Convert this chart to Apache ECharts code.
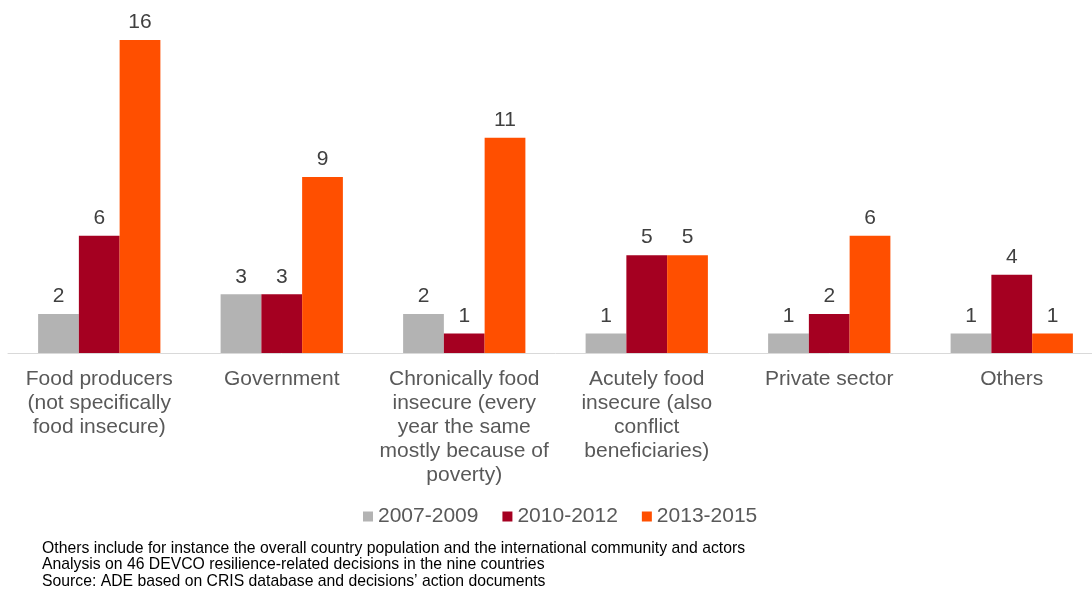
<!DOCTYPE html>
<html>
<head>
<meta charset="utf-8">
<script src="https://cdn.jsdelivr.net/npm/echarts@6/dist/echarts.min.js"></script>
<style>
  html, body { margin: 0; padding: 0; background: #ffffff; overflow: hidden; }
  #chart { width: 1103px; height: 590px; }
</style>
</head>
<body>
<div id="chart"></div>
<script>
// Beneficiary groups targeted by resilience-related decisions, by period
const categories = [
  'Food producers\n(not specifically\nfood insecure)',
  'Government',
  'Chronically food\ninsecure (every\nyear the same\nmostly because of\npoverty)',
  'Acutely food\ninsecure (also\nconflict\nbeneficiaries)',
  'Private sector',
  'Others'
];
const periods = ['2007-2009', '2010-2012', '2013-2015'];
const values2007 = [2, 3, 2, 1, 1, 1];
const values2010 = [6, 3, 1, 5, 2, 4];
const values2013 = [16, 9, 11, 5, 6, 1];
const periodColors = ['#b3b3b3', '#a50021', '#ff4f00'];
const notes = [
  'Others include for instance the overall country population and the international community and actors',
  'Analysis on 46 DEVCO resilience-related decisions in the nine countries',
  'Source: ADE based on CRIS database and decisions\u2019 action documents'
];

const font = 'Liberation Sans, Arial, sans-serif';
const seriesValues = [values2007, values2010, values2013];

const chart = echarts.init(document.getElementById('chart'), null, { renderer: 'canvas' });
chart.setOption({
  animation: false,
  textStyle: { fontFamily: font },
  grid: { left: 8, top: 40, right: 0, height: 313, containLabel: false },
  legend: {
    data: periods,
    left: 358,
    top: 501,
    itemWidth: 10,
    itemHeight: 10,
    itemGap: 24,
    icon: 'rect',
    textStyle: { fontFamily: font, fontSize: 21, color: '#595959', padding: [2, 0, 0, 0] }
  },
  xAxis: {
    type: 'category',
    data: categories,
    axisLine: { lineStyle: { color: '#d9d9d9', width: 1 } },
    axisTick: { show: false },
    axisLabel: {
      interval: 0,
      margin: 14,
      fontFamily: font,
      fontSize: 21,
      lineHeight: 24,
      color: '#595959',
      align: 'center'
    }
  },
  yAxis: {
    type: 'value',
    min: 0,
    max: 16,
    show: false,
    splitLine: { show: false }
  },
  series: seriesValues.map((vals, i) => ({
    name: periods[i],
    type: 'bar',
    data: vals,
    barGap: '0%',
    barCategoryGap: '33%',
    itemStyle: { color: periodColors[i] },
    label: {
      show: true,
      position: 'top',
      distance: 7,
      fontFamily: font,
      fontSize: 21,
      color: '#404040'
    }
  })),
  graphic: notes.map((t, i) => ({
    type: 'text',
    left: 42,
    top: 540.5 + i * 16.5,
    style: { text: t, fontFamily: font, fontSize: 15.75, fill: '#000000' }
  }))
});
</script>
</body>
</html>
